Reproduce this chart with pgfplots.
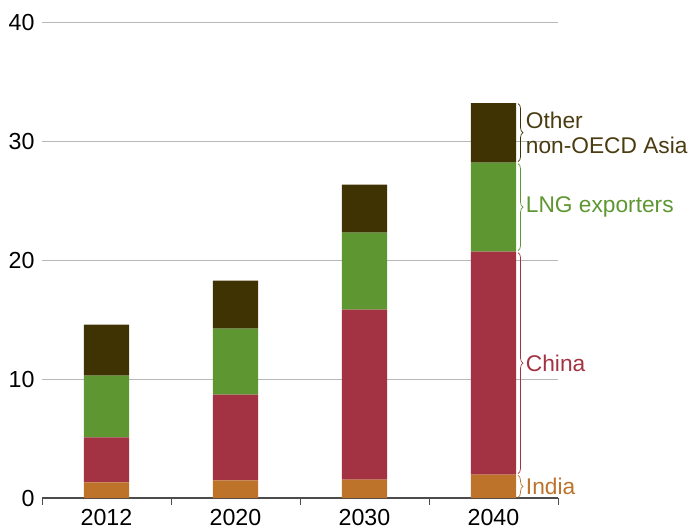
\documentclass[border=0pt]{standalone}
\usepackage{pgfplots}
\usepackage{pgfplotstable}
\usepackage{fontspec}
\setmainfont{Liberation Sans}
\pgfplotsset{compat=1.18}
\usetikzlibrary{decorations.pathreplacing}
\definecolor{india}{HTML}{BD732A}
\definecolor{china}{HTML}{A33343}
\definecolor{lng}{HTML}{5E9732}
\definecolor{other}{HTML}{403303}
\definecolor{othertext}{HTML}{4A3C10}
\pgfplotstableread{
x India China LNG Other
0 1.31 3.78 5.19 4.28
1 1.48 7.20 5.55 4.03
2 1.54 14.28 6.47 4.05
3 1.96 18.74 7.48 5.01
}\datatable
\begin{document}
\begin{tikzpicture}
\begin{axis}[
  scale only axis, width=516bp, height=476bp,
  xmin=-0.5, xmax=3.5, ymin=0, ymax=40,
  ybar stacked, bar width=0.35,
  clip=false,
  axis x line*=bottom, axis y line*=left,
  y axis line style={draw=none},
  x axis line style={color=black!70, line width=1.3bp},
  xtick={0,1,2,3}, xticklabels={2012,2020,2030,2040},
  minor xtick={-0.5,0.5,1.5,2.5,3.5},
  major x tick style={draw=none},
  minor x tick style={color=black!70, line width=0.9bp},
  minor tick length=7bp,
  major tick length=0pt,
  tick align=outside,
  ytick={0,10,20,30,40},
  ymajorgrids, grid style={color=black!28, line width=0.9bp},
  major y tick style={draw=none},
  /pgf/number format/assume math mode=true,
  tick label style={font=\fontsize{23.3}{27}\selectfont, text=black},
  xticklabel style={yshift=-7.5bp},
  yticklabel style={xshift=-4bp, yshift=-1bp},
]
\addplot[fill=india, draw=none] table[x=x, y=India] {\datatable};
\addplot[fill=china, draw=none] table[x=x, y=China] {\datatable};
\addplot[fill=lng, draw=none] table[x=x, y=LNG] {\datatable};
\addplot[fill=other, draw=none] table[x=x, y=Other] {\datatable};

\draw[decorate, decoration={brace, amplitude=5bp}, india, line width=0.7bp] (axis cs:3.19,1.90) -- (axis cs:3.19,0.05);
\draw[decorate, decoration={brace, amplitude=5bp}, china, line width=0.7bp] (axis cs:3.19,20.62) -- (axis cs:3.19,2.05);
\draw[decorate, decoration={brace, amplitude=5bp}, lng, line width=0.7bp] (axis cs:3.19,28.10) -- (axis cs:3.19,20.78);
\draw[decorate, decoration={brace, amplitude=5bp}, other, line width=0.7bp] (axis cs:3.19,33.15) -- (axis cs:3.19,28.26);

\node[anchor=west, inner sep=0pt, text=india, font=\fontsize{22.8}{26}\selectfont] at (axis cs:3.25,0.98) {India};
\node[anchor=west, inner sep=0pt, text=china, font=\fontsize{22.8}{26}\selectfont] at (axis cs:3.25,11.33) {China};
\node[anchor=west, inner sep=0pt, text=lng, font=\fontsize{22.8}{26}\selectfont] at (axis cs:3.25,24.44) {LNG exporters};
\node[anchor=west, inner sep=0pt, text=othertext, align=left, font=\fontsize{22.8}{25}\selectfont] at (axis cs:3.25,30.7) {Other\\non-OECD Asia};
\end{axis}
\pgfresetboundingbox
\path ([xshift=-42bp,yshift=-34bp]current axis.south west) rectangle ([xshift=133bp,yshift=22bp]current axis.north east);
\end{tikzpicture}
\end{document}
